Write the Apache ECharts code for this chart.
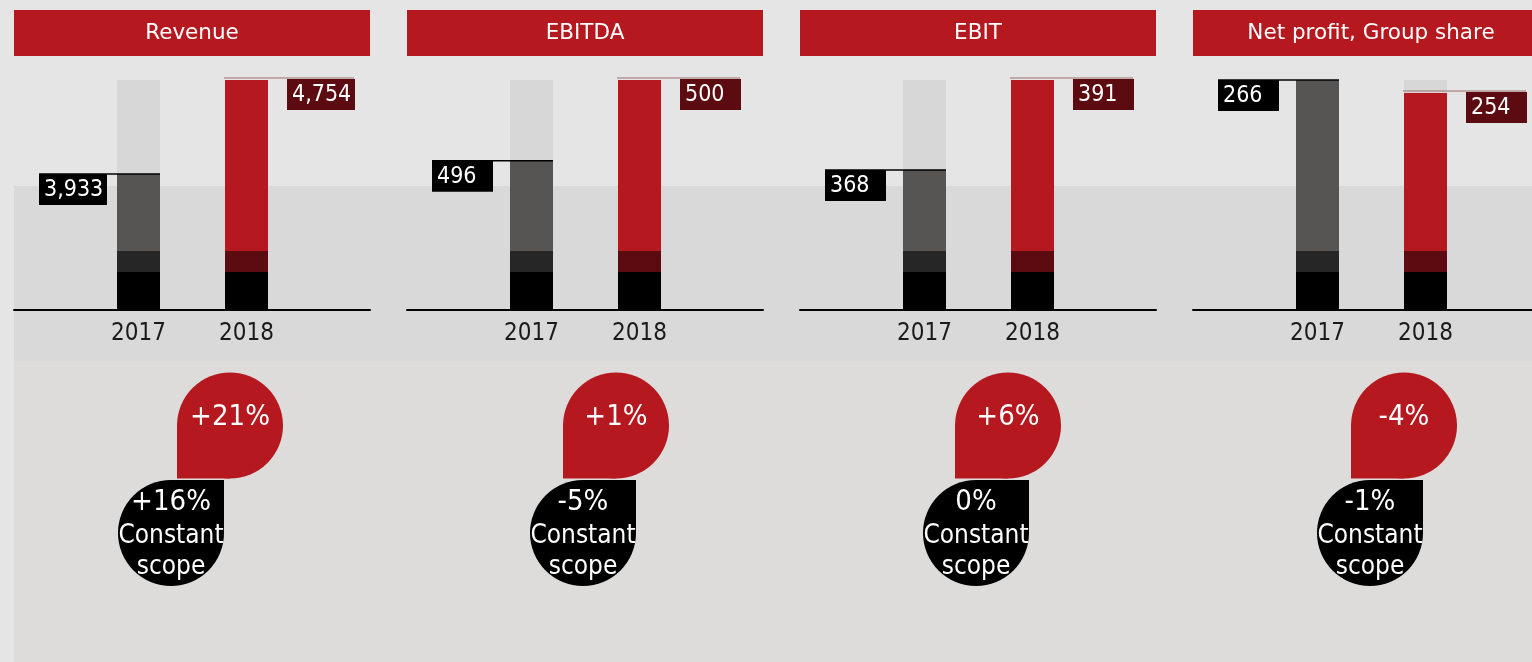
<!DOCTYPE html>
<html>
<head>
<meta charset="utf-8">
<title>Key figures 2018</title>
<script src="https://cdn.jsdelivr.net/npm/echarts@6/dist/echarts.min.js"></script>
<style>
html, body { margin: 0; padding: 0; background: #e5e5e5; }
#chart { width: 1532px; height: 662px; }
</style>
</head>
<body>
<div id="chart"></div>
<script>
// chart data
var titles = ['Revenue', 'EBITDA', 'EBIT', 'Net profit, Group share'];
var years = ['2017', '2018'];
var values2017 = [3933, 496, 368, 266];
var values2018 = [4754, 500, 391, 254];
var growth = ['+21%', '+1%', '+6%', '-4%'];
var growthConstScope = ['+16%', '-5%', '0%', '-1%'];
// the source chart uses a truncated value axis per panel
var axisFloor = [2745, 488.6, 332.2, 53.6];

// layout
var PANEL_X0 = 14, PANEL_STEP = 393, PANEL_W = 356;
var PLOT_TOP = 80, PLOT_H = 230;
var BAR_W = 43;
var redBubbleX = [216, 209, 208, 211];
var blackBubbleX = [157, 176, 176, 177];
var R = 53;

var RED = '#b5181e', DARK_RED = '#5c0b10', GREY = '#565553', DARK = '#262626';
var FONT = '"DejaVu Sans Condensed", "DejaVu Sans", sans-serif';

var chart = echarts.init(document.getElementById('chart'));

var grids = [], xAxes = [], yAxes = [], series = [];
var graphics = [
    {type: 'rect', shape: {x: 14, y: 186, width: 1518, height: 175}, style: {fill: '#d9d9d9'}, z: -10},
    {type: 'rect', shape: {x: 14, y: 361, width: 1518, height: 301}, style: {fill: '#dedcdb'}, z: -10}
];

function renderCallout(params, api) {
    var i = params.dataIndex;
    var val = api.value(1);
    var pt = api.coord([api.value(0), val]);
    var barLeft = pt[0] - BAR_W / 2;
    var text = echarts.format.addCommas(val);
    var boxW = text.length > 3 ? 68 : 61;
    var bx, by, line;
    if (i === 0) {
        bx = barLeft - 78;
        by = pt[1];
        line = {type: 'line', shape: {x1: bx, y1: pt[1], x2: barLeft + BAR_W, y2: pt[1]},
            style: {stroke: '#000', lineWidth: 1.5}};
    } else {
        bx = barLeft + 62;
        by = pt[1] - 1;
        line = {type: 'line', shape: {x1: barLeft - 1, y1: pt[1] - 2, x2: bx + boxW - 1, y2: pt[1] - 2},
            style: {stroke: '#9a6e6e', lineWidth: 1.2}};
    }
    return {
        type: 'group',
        children: [
            line,
            {type: 'rect', shape: {x: bx, y: by, width: boxW, height: 31},
                style: {fill: i === 0 ? '#000' : DARK_RED}},
            {type: 'text', x: bx + 5, y: by + 16,
                style: {text: text, fill: '#fff', fontSize: 23, fontFamily: FONT,
                    textAlign: 'left', textVerticalAlign: 'middle'}}
        ]
    };
}

for (var i = 0; i < titles.length; i++) {
    var px = PANEL_X0 + PANEL_STEP * i;
    var yMax = Math.max(values2017[i], values2018[i]);
    var yMin = axisFloor[i];
    var span = yMax - yMin;

    // bar grid
    grids.push({left: px + 70.5, top: PLOT_TOP, width: 216, height: PLOT_H});
    xAxes.push({
        gridIndex: i, type: 'category', data: years, boundaryGap: true,
        axisLine: {show: false}, axisTick: {show: false},
        axisLabel: {color: '#1a1a1a', fontSize: 24, fontFamily: FONT, margin: 12}
    });
    yAxes.push({gridIndex: i, type: 'value', min: yMin, max: yMax, show: false, splitLine: {show: false}});

    series.push({
        type: 'bar', xAxisIndex: i, yAxisIndex: i, barWidth: BAR_W, barGap: '-100%',
        clip: true, silent: true, z: 1,
        itemStyle: {color: '#d7d7d7'},
        data: [yMax, yMax]
    });
    series.push({
        type: 'bar', xAxisIndex: i, yAxisIndex: i, barWidth: BAR_W, barGap: '-100%',
        clip: true, silent: true, z: 2,
        data: [
            {value: values2017[i], itemStyle: {color: GREY}},
            {value: values2018[i], itemStyle: {color: RED}}
        ]
    });
    // fixed decorative base of each bar
    series.push({
        type: 'bar', xAxisIndex: i, yAxisIndex: i, barWidth: BAR_W, barGap: '-100%',
        clip: true, silent: true, z: 3,
        data: [
            {value: yMin + span * 59 / PLOT_H, itemStyle: {color: DARK}},
            {value: yMin + span * 59 / PLOT_H, itemStyle: {color: DARK_RED}}
        ]
    });
    series.push({
        type: 'bar', xAxisIndex: i, yAxisIndex: i, barWidth: BAR_W, barGap: '-100%',
        clip: true, silent: true, z: 4,
        itemStyle: {color: '#000'},
        data: [yMin + span * 38 / PLOT_H, yMin + span * 38 / PLOT_H]
    });
    series.push({
        type: 'custom', xAxisIndex: i, yAxisIndex: i, z: 5, silent: true,
        renderItem: renderCallout,
        encode: {x: 0, y: 1},
        data: [[0, values2017[i]], [1, values2018[i]]]
    });

    // header
    graphics.push({type: 'rect', shape: {x: px, y: 10, width: PANEL_W, height: 46}, style: {fill: RED}});
    graphics.push({type: 'text', x: px + PANEL_W / 2, y: 33,
        style: {text: titles[i], fill: '#fff', fontSize: 21.5, fontFamily: '"DejaVu Sans", sans-serif',
            textAlign: 'center', textVerticalAlign: 'middle'}});

    // growth bubbles
    var rx = px + redBubbleX[i], ry = 425.5;
    graphics.push({type: 'circle', shape: {cx: rx, cy: ry, r: R}, style: {fill: RED}});
    graphics.push({type: 'rect', shape: {x: rx - R, y: ry, width: R, height: R}, style: {fill: RED}});
    graphics.push({type: 'text', x: rx, y: ry - 8,
        style: {text: growth[i], fill: '#fff', fontSize: 29, fontFamily: FONT,
            textAlign: 'center', textVerticalAlign: 'middle'}});

    var kx = px + blackBubbleX[i], ky = 533;
    graphics.push({type: 'circle', shape: {cx: kx, cy: ky, r: R}, style: {fill: '#000'}});
    graphics.push({type: 'rect', shape: {x: kx, y: ky - R, width: R, height: R}, style: {fill: '#000'}});
    graphics.push({type: 'text', x: kx, y: 502,
        style: {text: growthConstScope[i], fill: '#fff', fontSize: 29, fontFamily: FONT,
            textAlign: 'center', textVerticalAlign: 'middle'}});
    graphics.push({type: 'text', x: kx, y: 536,
        style: {text: 'Constant', fill: '#fff', fontSize: 26, fontFamily: FONT,
            textAlign: 'center', textVerticalAlign: 'middle'}});
    graphics.push({type: 'text', x: kx, y: 567,
        style: {text: 'scope', fill: '#fff', fontSize: 26, fontFamily: FONT,
            textAlign: 'center', textVerticalAlign: 'middle'}});
}

// baseline grids spanning each full panel
for (var j = 0; j < titles.length; j++) {
    var gx = PANEL_X0 + PANEL_STEP * j;
    grids.push({left: gx, top: PLOT_TOP, width: PANEL_W, height: PLOT_H});
    xAxes.push({
        gridIndex: titles.length + j, type: 'value', min: 0, max: 1,
        axisLine: {show: true, onZero: false, lineStyle: {color: '#000', width: 2}},
        axisTick: {show: false}, axisLabel: {show: false}, splitLine: {show: false}
    });
    yAxes.push({gridIndex: titles.length + j, type: 'value', show: false, splitLine: {show: false}});
}

var option = {
    backgroundColor: '#e5e5e5',
    animation: false,
    graphic: graphics,
    grid: grids,
    xAxis: xAxes,
    yAxis: yAxes,
    series: series
};
chart.setOption(option);

window.addEventListener('resize', chart.resize);
</script>
</body>
</html>
